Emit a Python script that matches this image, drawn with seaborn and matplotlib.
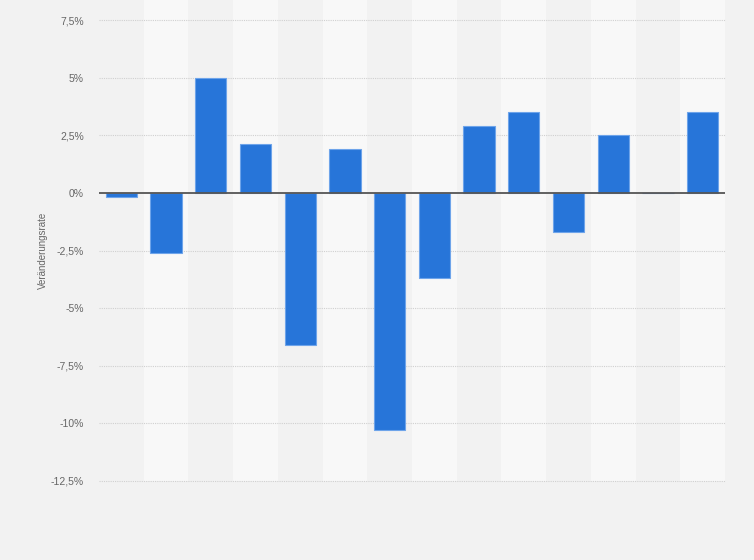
import matplotlib
matplotlib.use("Agg")
import matplotlib.pyplot as plt
import seaborn as sns
import pandas as pd
from matplotlib.ticker import FixedLocator

# Data (x-axis labels are not shown in the reference)
categories = [str(i) for i in range(1, 15)]
values = [-0.2, -2.6, 5.0, 2.1, -6.6, 1.9, -10.3, -3.7, 2.9, 3.5, -1.7, 2.5, 0.0, 3.5]
ytick_values = [7.5, 5, 2.5, 0, -2.5, -5, -7.5, -10, -12.5]
ytick_labels = ["7,5%", "5%", "2,5%", "0%", "-2,5%", "-5%", "-7,5%", "-10%", "-12,5%"]
ylabel = "Veränderungsrate"

df = pd.DataFrame({"cat": categories, "val": values})

sns.set_theme(style="white")
plt.rcParams["font.family"] = ["Liberation Sans", "DejaVu Sans"]

fig = plt.figure(figsize=(7.54, 5.6), dpi=100)
fig.patch.set_facecolor("#f2f2f2")
ax = fig.add_axes([99 / 754, 1 - 481 / 560, (725 - 99) / 754, 481 / 560])
ax.set_facecolor("#f2f2f2")

# alternating column bands
for i in range(len(categories)):
    if i % 2 == 1:
        ax.axvspan(i - 0.5, i + 0.5, color="#f8f8f8", zorder=0, lw=0)

sns.barplot(data=df, x="cat", y="val", color="#2775d9", width=0.7,
            saturation=1, edgecolor="#6ea4ea", linewidth=0.8, ax=ax, zorder=3)

ax.set_xlim(-0.5, len(categories) - 0.5)
ax.set_ylim(-12.5, 7.5 + 20 / 23.05)
ax.yaxis.set_major_locator(FixedLocator(ytick_values))
ax.set_yticklabels(ytick_labels)
for v in ytick_values:
    if v != 0:
        ax.axhline(v, color="#d0d0d0", lw=0.8, ls=(0, (1, 1)), zorder=1,
                   clip_on=False)
ax.axhline(0, color="#555555", lw=1.3, zorder=4)

ax.set_xticks([])
ax.set_xlabel("")
ax.set_ylabel(ylabel, fontsize=7, color="#666666")
ax.yaxis.set_label_coords(-0.082, 0.48)
ax.tick_params(axis="y", labelsize=7.5, labelcolor="#666666", length=0, pad=11)
for s in ax.spines.values():
    s.set_visible(False)

fig.savefig("out.png", dpi=100, facecolor=fig.get_facecolor())
